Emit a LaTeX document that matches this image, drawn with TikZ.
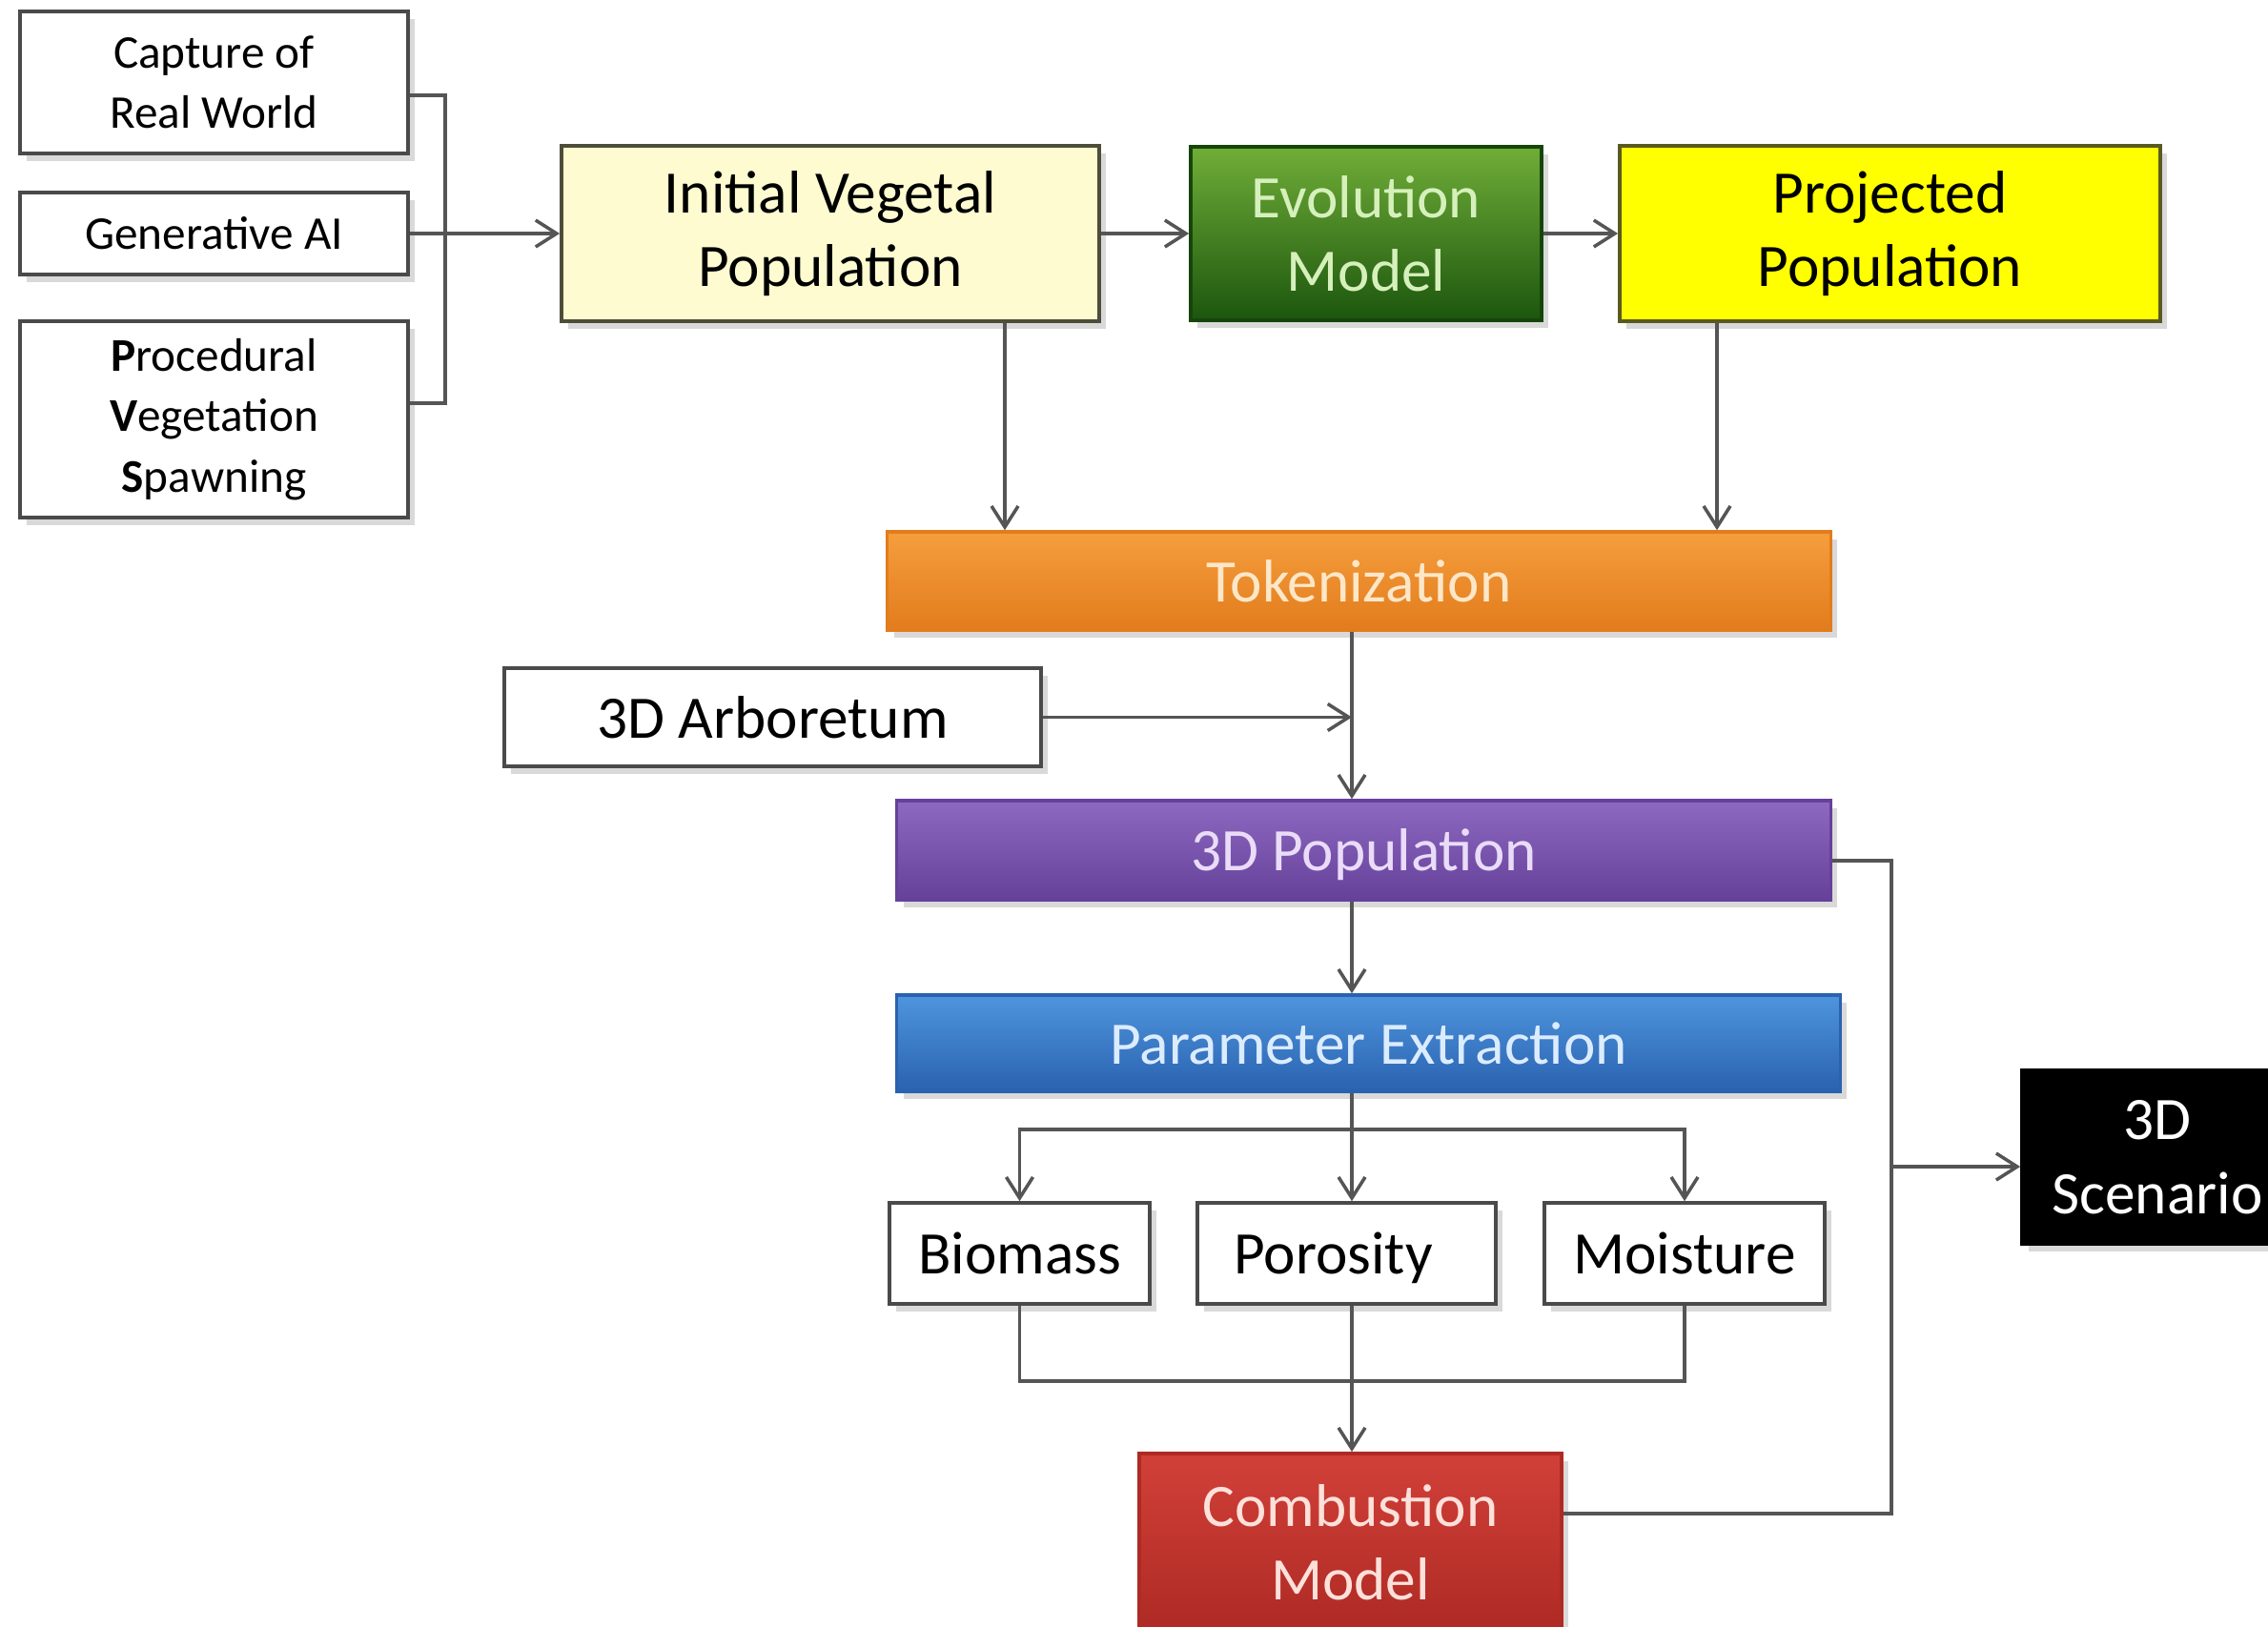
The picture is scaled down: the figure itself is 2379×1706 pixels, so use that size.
\documentclass[tikz,border=0pt]{standalone}
\usepackage{fontspec}
\setmainfont{Carlito}
\usetikzlibrary{arrows.meta,shadows}
\definecolor{boxgray}{HTML}{4A4A4A}
\definecolor{conngray}{HTML}{555555}
\definecolor{ivpfill}{HTML}{FEFBD0}
\definecolor{ivpdraw}{HTML}{4D4D3A}
\definecolor{evotop}{HTML}{86C443}
\definecolor{evolight}{HTML}{B4DE78}
\definecolor{evobot}{HTML}{1C560E}
\definecolor{evotext}{HTML}{D6F0BC}
\definecolor{projfill}{HTML}{FFFF00}
\definecolor{projdraw}{HTML}{5A5A20}
\definecolor{toktop}{HTML}{F9A444}
\definecolor{toklight}{HTML}{F2CE5A}
\definecolor{tokbot}{HTML}{E27C1C}
\definecolor{toktext}{HTML}{FDE7C8}
\definecolor{poptop}{HTML}{9570C8}
\definecolor{poplight}{HTML}{C6A8EC}
\definecolor{popbot}{HTML}{66419A}
\definecolor{poptext}{HTML}{EADCF8}
\definecolor{partop}{HTML}{559EE6}
\definecolor{parlight}{HTML}{8CC4F4}
\definecolor{parbot}{HTML}{2A62B0}
\definecolor{partext}{HTML}{DCECFF}
\definecolor{comtop}{HTML}{DA463E}
\definecolor{comlight}{HTML}{EE8A80}
\definecolor{combot}{HTML}{AE2A24}
\definecolor{comtext}{HTML}{FDE0DA}
\pgfdeclareverticalshading{evoshade}{100bp}{color(0bp)=(evobot); color(25bp)=(evobot); color(88bp)=(evotop); color(94bp)=(evolight); color(100bp)=(evolight)}
\pgfdeclareverticalshading{tokshade}{100bp}{color(0bp)=(tokbot); color(25bp)=(tokbot); color(84bp)=(toktop); color(90bp)=(toklight); color(100bp)=(toklight)}
\pgfdeclareverticalshading{popshade}{100bp}{color(0bp)=(popbot); color(25bp)=(popbot); color(84bp)=(poptop); color(90bp)=(poplight); color(100bp)=(poplight)}
\pgfdeclareverticalshading{parshade}{100bp}{color(0bp)=(parbot); color(25bp)=(parbot); color(84bp)=(partop); color(90bp)=(parlight); color(100bp)=(parlight)}
\pgfdeclareverticalshading{comshade}{100bp}{color(0bp)=(combot); color(25bp)=(combot); color(88bp)=(comtop); color(94bp)=(comlight); color(100bp)=(comlight)}
\begin{document}
\begin{tikzpicture}[x=0.01cm,y=-0.01cm,
  box/.style={line width=1pt, inner sep=0pt, align=center,
    drop shadow={opacity=0.3, shadow xshift=0.7mm, shadow yshift=-0.8mm},
    font=\fontsize{18}{22}\selectfont},
  wbox/.style={box, draw=boxgray, fill=white},
  smalltext/.style={font=\fontsize{14}{18}\selectfont},
  conn/.style={draw=conngray, line width=1pt},
  arr/.style={conn, -{Straight Barb[length=2.2mm,width=2.8mm]}}]
\useasboundingbox (0,0) rectangle (2379,1706);
\clip (0,0) rectangle (2379,1706);

% left input boxes
\node[wbox,smalltext,minimum width=4.07cm,minimum height=1.49cm] (cap) at (224.5,86.5) {Capture of\\Real World};
\node[wbox,smalltext,minimum width=4.07cm,minimum height=0.86cm] (gen) at (224.5,245) {Generative AI};
\node[wbox,smalltext,minimum width=4.07cm,minimum height=2.06cm] (pvs) at (224.5,440) {\textbf{P}rocedural\\\textbf{V}egetation\\\textbf{S}pawning};

% top row
\node[box,draw=ivpdraw,fill=ivpfill,minimum width=5.64cm,minimum height=1.84cm] (ivp) at (871,245) {Initial Vegetal\\Population};
\node[box,draw=evobot!80!black,shading=evoshade,text=evotext,minimum width=3.68cm,minimum height=1.82cm] (evo) at (1433,245) {Evolution\\Model};
\node[box,draw=projdraw,fill=projfill,minimum width=5.67cm,minimum height=1.84cm] (proj) at (1982.5,245) {Projected\\Population};

% central column
\node[box,draw=tokbot,shading=tokshade,text=toktext,minimum width=9.89cm,minimum height=1.03cm] (tok) at (1425.5,609.5) {Tokenization};
\node[wbox,minimum width=5.63cm,minimum height=1.03cm] (arb) at (810.5,752.5) {3D Arboretum};
\node[box,draw=popbot,shading=popshade,text=poptext,text depth=0pt,minimum width=9.79cm,minimum height=1.04cm] (pop) at (1430.5,892) {3D Population};
\node[box,draw=parbot,shading=parshade,text=partext,minimum width=9.89cm,minimum height=1.01cm] (par) at (1435.5,1094.5) {Parameter Extraction};

\node[wbox,minimum width=2.73cm,minimum height=1.06cm] (bio) at (1069.5,1315) {Biomass};
\node[wbox,text depth=0pt,minimum width=3.13cm,minimum height=1.06cm] (por) at (1412.5,1315) {Porosity\hspace{0.28cm}};
\node[wbox,minimum width=2.94cm,minimum height=1.06cm] (moi) at (1767,1315) {Moisture};

\node[box,draw=combot,shading=comshade,text=comtext,minimum width=4.43cm,minimum height=1.86cm] (com) at (1416.5,1618) {Combustion\\Model};

\node[box,draw=black,fill=black,text=white,minimum width=2.84cm,minimum height=1.82cm] (scen) at (2263,1214) {3D\\Scenario};

% coordinates
\coordinate (bx) at (467,245);
\coordinate (xa) at (1054,0);
\coordinate (xb) at (1801,0);
\coordinate (xs) at (1418,0);
\coordinate (sp) at (1418,1185);
\coordinate (mg) at (1418,1449);
\coordinate (rb) at (1984,1224);

% connectors
\draw[conn] ([yshift=-0.135cm]cap.east) -| (bx) |- ([yshift=0.17cm]pvs.east);
\draw[arr] (gen.east) -- (ivp.west);
\draw[arr] (ivp.east) -- (evo.west);
\draw[arr] (evo.east) -- (proj.west);
\draw[arr] (ivp.south -| xa) -- (tok.north -| xa);
\draw[arr] (proj.south -| xb) -- (tok.north -| xb);
\draw[arr] (tok.south -| xs) -- (pop.north -| xs);
\draw[arr] (arb.east) -- (arb.east -| xs);
\draw[arr] (pop.south -| xs) -- (par.north -| xs);
\draw[arr] (par.south -| xs) -- (por.north -| xs);
\draw[arr] (sp) -| (bio.north);
\draw[arr] (sp) -| (moi.north);
\draw[conn] (bio.south) |- (mg) -| (moi.south);
\draw[arr] (por.south -| xs) -- (com.north -| xs);
\draw[conn] ([yshift=-0.11cm]pop.east) -| (rb);
\draw[conn] ([yshift=0.3cm]com.east) -| (rb);
\draw[arr] (rb) -- (rb -| scen.west);
\end{tikzpicture}
\end{document}
